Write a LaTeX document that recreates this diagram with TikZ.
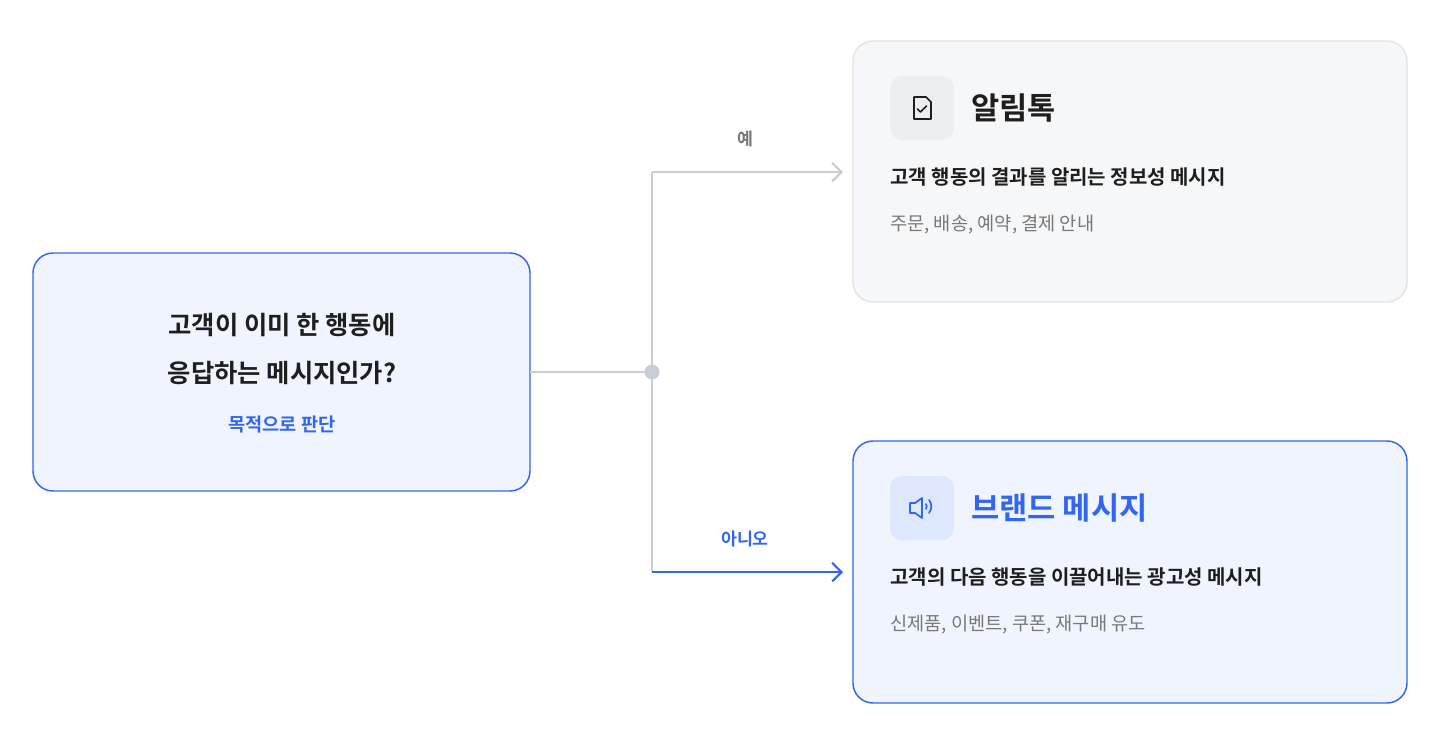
\documentclass[tikz,border=0pt]{standalone}
\usepackage{fontspec}
\setmainfont{Noto Sans CJK KR}[BoldFont={Noto Sans CJK KR Bold}]
\usetikzlibrary{arrows.meta}
\definecolor{brandblue}{RGB}{51,102,238}
\definecolor{lightblue}{RGB}{239,244,254}
\definecolor{iconblue}{RGB}{221,231,253}
\definecolor{panelgray}{RGB}{246,247,249}
\definecolor{edgegray}{RGB}{226,228,232}
\definecolor{icongray}{RGB}{236,238,241}
\definecolor{linegray}{RGB}{200,205,213}
\definecolor{textgray}{RGB}{120,120,120}
\definecolor{inkdark}{RGB}{30,30,30}
\tikzset{
  box/.style={rounded corners=15pt, line width=1.1pt, inner sep=0pt},
  iconbox/.style={rounded corners=9pt, minimum width=48pt, minimum height=48pt, inner sep=0pt},
  conn/.style={line width=2.2pt, -{Straight Barb[length=7pt,width=14pt,line width=1.6pt]}},
  txt/.style={anchor=west, inner sep=0pt}
}
\begin{document}
\begin{tikzpicture}[x=0.75pt,y=0.75pt,yscale=-1,xscale=1]
\useasboundingbox (0,0) rectangle (1440,744);

%Shape: Rectangle [question]
\draw [box, draw=brandblue, fill=lightblue] (33,253) rectangle (530,491);
\node (q1) [inner sep=0pt, font=\bfseries\fontsize{19}{23}\selectfont, color=inkdark] at (282,325) {고객이 이미 한 행동에};
\node (q2) [inner sep=0pt, font=\bfseries\fontsize{19}{23}\selectfont, color=inkdark] at (282,373) {응답하는 메시지인가?};
\node (q3) [inner sep=0pt, font=\bfseries\fontsize{14}{17}\selectfont, color=brandblue] at (282,425) {목적으로 판단};

%Shape: Rectangle [yes panel]
\draw [box, draw=edgegray, fill=panelgray] (853,41) rectangle (1407,302);
\node (i1) [iconbox, fill=icongray] at (922,108) {};
\draw [line width=1.3pt, color=inkdark, line join=round] (914,97) -- (926,97) -- (931,102) -- (931,119) -- (914,119) -- cycle;
\draw [line width=1.3pt, color=inkdark, line cap=round, line join=round] (917.5,109) -- (920.5,112) -- (926.5,106);
\node (t1) [txt, font=\bfseries\fontsize{23}{27}\selectfont, color=inkdark] at (971,108) {알림톡};
\node (s1) [txt, font=\bfseries\fontsize{15}{18}\selectfont, color=inkdark] at (890,177) {고객 행동의 결과를 알리는 정보성 메시지};
\node (d1) [txt, font=\fontsize{14}{17}\selectfont, color=textgray] at (890,225) {주문, 배송, 예약, 결제 안내};

%Shape: Rectangle [no panel]
\draw [box, draw=brandblue, fill=lightblue] (853,441) rectangle (1407,703);
\node (i2) [iconbox, fill=iconblue] at (922,508) {};
\draw [line width=1.3pt, color=brandblue, line join=round] (910,503) -- (915,503) -- (922,498) -- (922,518) -- (915,513) -- (910,513) -- cycle;
\draw [line width=1.3pt, color=brandblue, line cap=round] (926,504) arc (-30:30:5);
\draw [line width=1.3pt, color=brandblue, line cap=round] (929,500) arc (-40:40:10);
\node (t2) [txt, font=\bfseries\fontsize{23}{27}\selectfont, color=brandblue] at (971,508) {브랜드 메시지};
\node (s2) [txt, font=\bfseries\fontsize{15}{18}\selectfont, color=inkdark] at (890,577) {고객의 다음 행동을 이끌어내는 광고성 메시지};
\node (d2) [txt, font=\fontsize{14}{17}\selectfont, color=textgray] at (890,625) {신제품, 이벤트, 쿠폰, 재구매 유도};

%Connectors
\coordinate (qe) at (530,372);
\coordinate (jn) at (652,372);
\coordinate (ya) at (652,172);
\coordinate (yb) at (843,172);
\coordinate (na) at (652,572);
\coordinate (nb) at (843,572);
\draw [line width=2.2pt, color=linegray] (qe) -- (jn);
\draw [line width=2.2pt, color=linegray] (ya) -- (na);
\draw [conn, color=linegray] (ya) -- (yb);
\draw [conn, color=brandblue] (na) -- (nb);
\fill [color=linegray] (jn) circle (7.5);
\node (ly) [inner sep=0pt, font=\bfseries\fontsize{13}{16}\selectfont, color=textgray] at (745,139) {예};
\node (ln) [inner sep=0pt, font=\bfseries\fontsize{13}{16}\selectfont, color=brandblue] at (745,539) {아니오};

\end{tikzpicture}
\end{document}
